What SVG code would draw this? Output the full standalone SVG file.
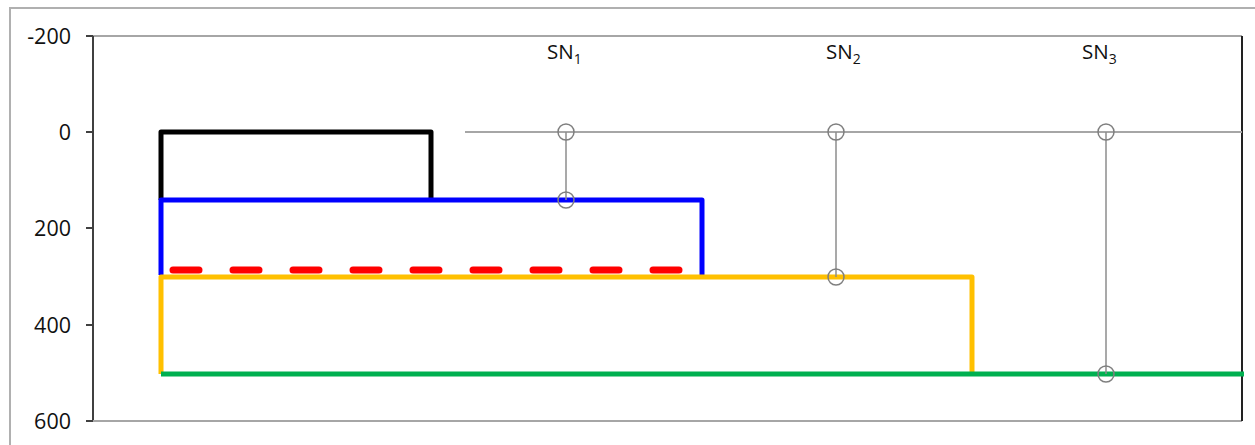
<svg xmlns="http://www.w3.org/2000/svg" width="1255" height="445" viewBox="0 0 1255 445">
<style>
text{font-family:"Open Sans","Liberation Sans",sans-serif;fill:#111}
.ax{font-size:21.5px;text-anchor:end}
.sn{font-size:20.5px}
.grid{stroke:#a6a6a6;stroke-width:2;fill:none}
.axis{stroke:#404040;stroke-width:2;fill:none}
.link{stroke:#8c8c8c;stroke-width:1.5;fill:none}
.node{fill:none;stroke:#7f7f7f;stroke-width:1.5}
.seg{fill:none;stroke-width:5;stroke-linejoin:round}
</style>
<rect x="0" y="0" width="1255" height="445" fill="#fff"/>
<rect x="10" y="8" width="1260" height="460" fill="none" stroke="#b0b0b0" stroke-width="2"/>
<g id="axes">
<line class="grid" x1="86" y1="36" x2="1242" y2="36"/>
<line class="axis" x1="93" y1="36" x2="93" y2="421"/>
<line class="grid" x1="86" y1="421" x2="1242" y2="421"/>
<line stroke="#222" stroke-width="2" x1="1242" y1="36" x2="1242" y2="421"/>
<g class="axis">
<line x1="86" y1="36" x2="93" y2="36"/>
<line x1="86" y1="132" x2="93" y2="132"/>
<line x1="86" y1="228" x2="93" y2="228"/>
<line x1="86" y1="325" x2="93" y2="325"/>
<line x1="86" y1="421" x2="93" y2="421"/>
</g>
<text class="ax" x="71" y="44">-200</text>
<text class="ax" x="71" y="140">0</text>
<text class="ax" x="71" y="236">200</text>
<text class="ax" x="71" y="333">400</text>
<text class="ax" x="71" y="429">600</text>
<line class="grid" x1="465" y1="132" x2="1242" y2="132"/>
</g>
<g id="layers">
<path id="black" class="seg" stroke="#000" d="M161,200 V132 H431 V200"/>
<path id="blue" class="seg" stroke="#0000ff" d="M161,275 V200 H702 V277"/>
<path id="orange" class="seg" stroke="#ffc000" d="M161,374 V277 H972 V374"/>
<path id="green" class="seg" stroke="#00b050" d="M161,374 H1244"/>
<path id="red" fill="none" stroke="#ff0000" stroke-width="7" stroke-linecap="round" stroke-dasharray="26 34" d="M173,270 H690"/>
</g>
<g id="connectors">
<line class="link" x1="566" y1="132" x2="566" y2="200"/>
<line class="link" x1="836" y1="132" x2="836" y2="277"/>
<line class="link" x1="1106" y1="132" x2="1106" y2="374"/>
</g>
<g id="SN1">
<circle class="node" cx="566" cy="132" r="8"/>
<circle class="node" cx="566" cy="200" r="8"/>
<text class="sn" x="547" y="59">SN<tspan font-size="14" dy="5">1</tspan></text>
</g>
<g id="SN2">
<circle class="node" cx="836" cy="132" r="8"/>
<circle class="node" cx="836" cy="277" r="8"/>
<text class="sn" x="826" y="59">SN<tspan font-size="14" dy="5">2</tspan></text>
</g>
<g id="SN3">
<circle class="node" cx="1106" cy="132" r="8"/>
<circle class="node" cx="1106" cy="374" r="8"/>
<text class="sn" x="1082" y="59">SN<tspan font-size="14" dy="5">3</tspan></text>
</g>
</svg>
